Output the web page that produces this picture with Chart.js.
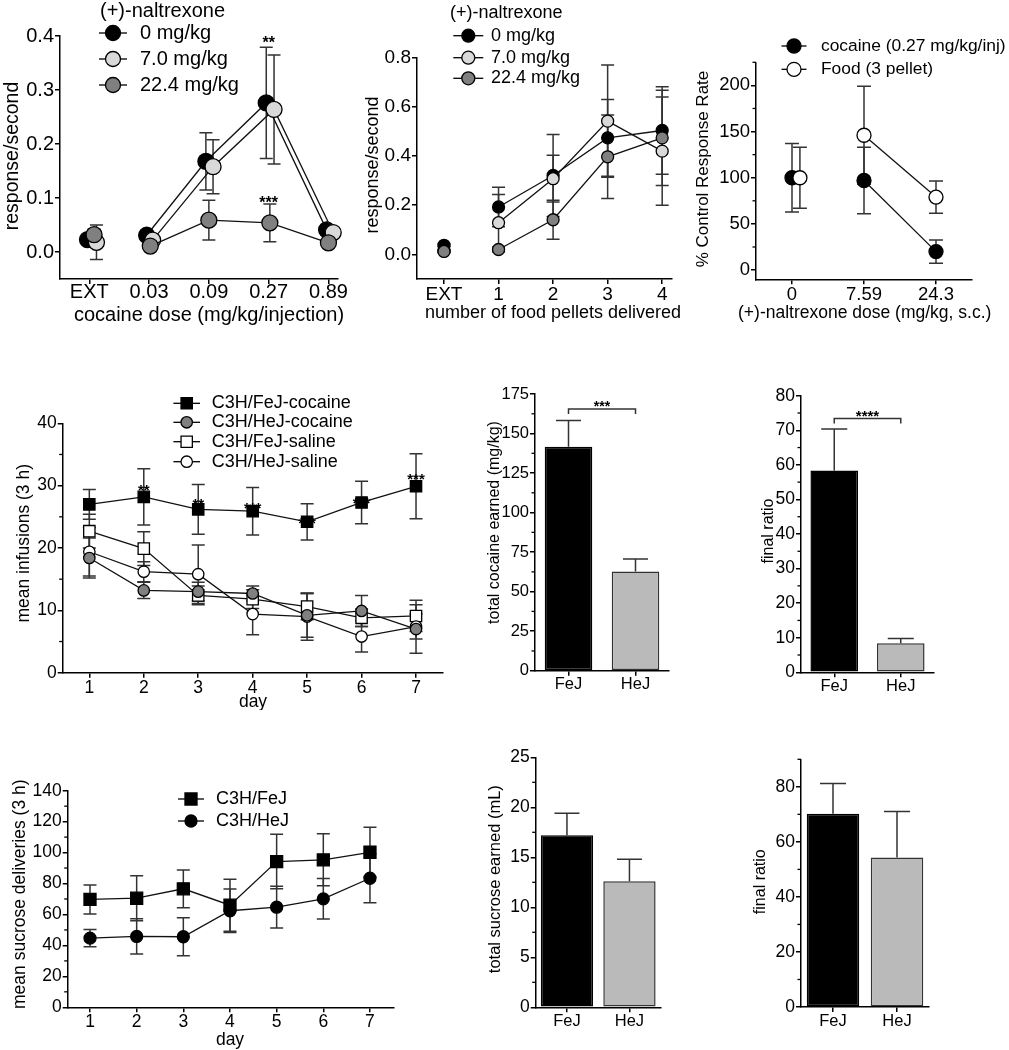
<!DOCTYPE html>
<html>
<head>
<meta charset="utf-8">
<title>(+)-naltrexone and C3H strains: self-administration</title>
<script src="https://cdn.jsdelivr.net/npm/chart.js"></script>
<style>
  body { margin: 0; background: #fff; }
  #fig { position: relative; width: 1009px; height: 1050px; overflow: hidden; }
  #fig canvas { position: absolute; }
</style>
</head>
<body>
<div id="fig">
  <canvas id="pA"></canvas>
  <canvas id="pB"></canvas>
  <canvas id="pC"></canvas>
  <canvas id="pD"></canvas>
  <canvas id="pE"></canvas>
  <canvas id="pF"></canvas>
  <canvas id="pG"></canvas>
  <canvas id="pH"></canvas>
  <canvas id="pI"></canvas>
</div>
<script>
// ---- data ----
// A: cocaine dose-effect with (+)-naltrexone pretreatment
const doseCats = ['EXT', '0.03', '0.09', '0.27', '0.89'];
const naltrexLabels = ['0 mg/kg', '7.0 mg/kg', '22.4 mg/kg'];
const cocRate0 = [0.023, 0.031, 0.168, 0.276, 0.041];
const cocRate7 = [0.018, 0.022, 0.158, 0.264, 0.036];
const cocRate22 = [0.032, 0.011, 0.059, 0.054, 0.017];
const cocSem0 = [0.008, 0.005, 0.053, 0.103, 0.005];
const cocSem7 = [0.032, 0.005, 0.05, 0.101, 0.005];
const cocSem22 = [0.01, 0.005, 0.037, 0.035, 0.005];
const cocTicksY = [0, 0.1, 0.2, 0.3, 0.4];

// B: food-maintained responding
const pelletCats = ['EXT', '1', '2', '3', '4'];
const foodRate0 = [0.037, 0.193, 0.321, 0.474, 0.504];
const foodRate7 = [0.015, 0.129, 0.308, 0.542, 0.42];
const foodRate22 = [0.012, 0.02, 0.141, 0.397, 0.474];
const foodSem0 = [0.005, 0.08, 0.167, 0.156, 0.178];
const foodSem7 = [0.005, 0.115, 0.095, 0.228, 0.22];
const foodSem22 = [0.005, 0.01, 0.079, 0.17, 0.194];
const foodTicksY = [0, 0.2, 0.4, 0.6, 0.8];

// C: % control response rate
const ntxDoseCats = ['0', '7.59', '24.3'];
const ctrlLabels = ['cocaine (0.27 mg/kg/inj)', 'Food (3 pellet)'];
const ctrlCocaine = [100, 97, 20];
const ctrlCocaineSem = [37, 36, 12.5];
const ctrlFood = [100, 146, 79];
const ctrlFoodSem = [33, 53, 17.5];
const ctrlTicksY = [0, 50, 100, 150, 200];

// D: infusions per day
const days = [1, 2, 3, 4, 5, 6, 7];
const infusionLabels = ['C3H/FeJ-cocaine', 'C3H/HeJ-cocaine', 'C3H/FeJ-saline', 'C3H/HeJ-saline'];
const feCoc = [27.0, 28.2, 26.2, 25.9, 24.2, 27.3, 29.9];
const feCocSem = [2.4, 4.5, 4.0, 3.8, 2.9, 3.4, 5.2];
const heCoc = [18.4, 13.2, 13.0, 12.7, 9.2, 9.9, 7.0];
const heCocSem = [3.2, 1.3, 1.5, 1.2, 3.5, 2.5, 3.9];
const feSal = [22.7, 19.9, 12.4, 11.8, 10.6, 8.8, 9.1];
const feSalSem = [2.7, 2.7, 1.5, 1.5, 2.1, 1.4, 2.5];
const heSal = [19.4, 16.2, 15.8, 9.4, 9.0, 5.8, 7.4];
const heSalSem = [3.9, 1.6, 4.7, 3.3, 3.8, 2.5, 2.0];
const infusionStars = ['', '**', '**', '***', '***', '***', '***'];
const infusionStarAt = [0, 29.8, 27.6, 27.0, 24.6, 27.8, 31.6];
const infusionTicksY = [0, 10, 20, 30, 40];

// E, F: cocaine totals and breakpoints
const strains = ['FeJ', 'HeJ'];
const cocaineTotal = [141.7, 62.8];
const cocaineTotalSem = [16.5, 7.9];
const cocaineTotalTicks = [0, 25, 50, 75, 100, 125, 150, 175];
const cocaineRatio = [58.4, 8.4];
const cocaineRatioSem = [12.0, 1.4];
const cocaineRatioTicks = [0, 10, 20, 30, 40, 50, 60, 70, 80];

// G: sucrose deliveries per day
const sucroseLabels = ['C3H/FeJ', 'C3H/HeJ'];
const feSuc = [69.7, 70.5, 76.6, 66.0, 94.2, 95.3, 100.2];
const feSucSem = [9.4, 14.5, 12.2, 16.8, 17.6, 16.8, 16.1];
const heSuc = [44.7, 45.8, 45.6, 62.4, 64.7, 70.1, 83.4];
const heSucSem = [5.6, 11.4, 12.3, 14.0, 13.5, 13.1, 15.9];
const sucroseTicksY = [0, 20, 40, 60, 80, 100, 120, 140];

// H, I: sucrose totals and breakpoints
const sucroseTotal = [17.2, 12.6];
const sucroseTotalSem = [2.2, 2.2];
const sucroseTotalTicks = [0, 5, 10, 15, 20, 25];
const sucroseRatio = [70.2, 54.3];
const sucroseRatioSem = [11.0, 16.7];
const sucroseRatioTicks = [0, 20, 40, 60, 80];

// ---- drawing ----
const FAM = '"Liberation Sans", Arial, Helvetica, sans-serif';
Chart.defaults.font.family = FAM;
Chart.defaults.color = '#000';

// error bars, minor ticks, brackets, stars, legends and axis titles
const extras = {
  id: 'extras',
  beforeDatasetsDraw(chart, args, o) {
    const ctx = chart.ctx, xs = chart.scales.x, ys = chart.scales.y;
    const area = chart.chartArea;
    ctx.save();
    if (o.minorStep) {
      ctx.strokeStyle = '#000';
      ctx.lineWidth = 1.3;
      const major = ys.ticks.map(t => t.value);
      for (let v = Math.ceil(ys.min / o.minorStep) * o.minorStep; v <= ys.max + 1e-9; v += o.minorStep) {
        if (major.some(m => Math.abs(m - v) < 1e-6)) continue;
        const py = ys.getPixelForValue(v);
        ctx.beginPath();
        ctx.moveTo(area.left, py);
        ctx.lineTo(area.left - 3.5, py);
        ctx.stroke();
      }
    }
    chart.data.datasets.forEach((ds, di) => {
      if (!ds.errors) return;
      const meta = chart.getDatasetMeta(di);
      ctx.strokeStyle = '#333';
      ctx.lineWidth = 1.5;
      meta.data.forEach((el, i) => {
        const e = ds.errors[i];
        if (!e) return;
        const raw = ds.data[i];
        const v = typeof raw === 'object' ? raw.y : raw;
        const top = ys.getPixelForValue(v + e);
        const bot = ys.getPixelForValue(o.upOnly ? v : v - e);
        ctx.beginPath();
        ctx.moveTo(el.x, top);
        ctx.lineTo(el.x, bot);
        ctx.moveTo(el.x - o.cap, top);
        ctx.lineTo(el.x + o.cap, top);
        if (!o.upOnly) {
          ctx.moveTo(el.x - o.cap, bot);
          ctx.lineTo(el.x + o.cap, bot);
        }
        ctx.stroke();
      });
    });
    if (o.bracket) {
      const b = o.bracket;
      const py = ys.getPixelForValue(b.y);
      const x0 = xs.getPixelForValue(b.from), x1 = xs.getPixelForValue(b.to);
      ctx.strokeStyle = '#333';
      ctx.lineWidth = 1.5;
      ctx.beginPath();
      ctx.moveTo(x0, py + b.drop);
      ctx.lineTo(x0, py);
      ctx.lineTo(x1, py);
      ctx.lineTo(x1, py + b.drop);
      ctx.stroke();
    }
    (o.stars || []).forEach(s => {
      if (!s.text) return;
      ctx.font = (s.bold ? 'bold ' : '') + s.size + 'px ' + FAM;
      ctx.fillStyle = '#000';
      ctx.textAlign = 'center';
      ctx.textBaseline = 'alphabetic';
      ctx.fillText(s.text, xs.getPixelForValue(s.x), ys.getPixelForValue(s.y) + 0.57 * s.size);
    });
    ctx.restore();
  },
  afterDraw(chart, args, o) {
    const ctx = chart.ctx;
    const [ox, oy] = o.origin;
    ctx.save();
    ctx.fillStyle = '#000';
    ctx.textBaseline = 'middle';
    const L = o.legend;
    if (L) {
      ctx.font = L.size + 'px ' + FAM;
      ctx.textAlign = 'left';
      if (L.title) ctx.fillText(L.title, L.titleX - ox, L.titleY - oy);
      L.items.forEach((it, k) => {
        const cx = L.x - ox, cy = L.y[k] - oy;
        ctx.strokeStyle = '#000';
        ctx.lineWidth = 1.3;
        ctx.beginPath();
        ctx.moveTo(cx - L.half, cy);
        ctx.lineTo(cx + L.half, cy);
        ctx.stroke();
        ctx.fillStyle = it.fill;
        Chart.helpers.drawPoint(ctx, { pointStyle: it.style, radius: it.r, borderWidth: 1.3, rotation: 0 }, cx, cy);
        ctx.fillStyle = '#000';
        ctx.fillText(it.label, L.textX - ox, cy);
      });
    }
    (o.titles || []).forEach(t => {
      ctx.save();
      ctx.font = t.size + 'px ' + FAM;
      ctx.textAlign = 'center';
      ctx.translate(t.x - ox, t.y - oy);
      if (t.rot) ctx.rotate(-Math.PI / 2);
      ctx.fillText(t.text, 0, 0);
      ctx.restore();
    });
    ctx.restore();
  }
};
Chart.register(extras);

const axisLine = { color: '#000', width: 1.5 };
const tickGrid = { drawOnChartArea: false, offset: false, color: '#000', lineWidth: 1.5, tickLength: 5 };

function yAxis(f, min, max, ticks, size, fmt) {
  return {
    type: 'linear', position: 'left', bounds: 'data', min: min, max: max,
    afterBuildTicks: s => { s.ticks = ticks.map(v => ({ value: v })); },
    afterFit: s => { s.width = f.yw; s.paddingTop = 0; s.paddingBottom = 0; },
    ticks: { autoSkip: false, padding: 1, color: '#000', font: { size: size }, callback: fmt || (v => String(v)) },
    grid: tickGrid,
    border: axisLine
  };
}

function xAxis(f, min, max, ticks, size, pad, fmt) {
  return {
    type: 'linear', position: 'bottom', bounds: 'data', min: min, max: max,
    afterBuildTicks: s => { s.ticks = ticks.map(v => ({ value: v })); },
    afterFit: s => { s.height = f.xh; s.paddingLeft = 0; s.paddingRight = 0; },
    ticks: { autoSkip: false, maxRotation: 0, padding: pad, color: '#000', font: { size: size, lineHeight: 1 }, callback: fmt },
    grid: tickGrid,
    border: axisLine
  };
}

function xCats(f, size, pad) {
  return {
    type: 'category', position: 'bottom', offset: true,
    afterFit: s => { s.height = f.xh; s.paddingLeft = 0; s.paddingRight = 0; },
    ticks: { autoSkip: false, maxRotation: 0, padding: pad, color: '#000', font: { size: size, lineHeight: 1 } },
    grid: tickGrid,
    border: axisLine
  };
}

function line(label, xs, ys, errs, st) {
  const ds = {
    label: label,
    data: xs.map((x, i) => ({ x: x + (st.dx ? st.dx[i] : 0), y: ys[i] })),
    errors: errs,
    showLine: true, fill: false, tension: 0, clip: false,
    borderColor: '#111', borderWidth: 1.3,
    pointStyle: st.style || 'circle', pointRadius: st.r, pointHoverRadius: st.r,
    pointBackgroundColor: st.fill, pointBorderColor: '#000', pointBorderWidth: 1.3,
    order: st.order || 0
  };
  if (st.gapFirst) ds.segment = { borderColor: c => (c.p0DataIndex === 0 ? 'rgba(0,0,0,0)' : '#111') };
  return ds;
}

function bars(vals, errs, pct) {
  return {
    data: vals, errors: errs,
    backgroundColor: ['#000', '#bababa'], borderColor: ['#000', '#333'], borderWidth: 1.5,
    borderSkipped: false, barPercentage: pct, categoryPercentage: 1
  };
}

function panel(id, box, area, make) {
  const c = document.getElementById(id);
  c.width = box[2];
  c.height = box[3];
  c.style.left = box[0] + 'px';
  c.style.top = box[1] + 'px';
  const f = { yw: area[0] - box[0], xh: box[1] + box[3] - area[3] };
  const cfg = make(f);
  const o = cfg.options;
  o.responsive = false;
  o.animation = false;
  o.events = [];
  o.devicePixelRatio = 1;
  o.layout = { padding: { left: 0, bottom: 0, top: area[2] - box[1], right: box[0] + box[2] - area[1] } };
  o.plugins.legend = { display: false };
  o.plugins.tooltip = { enabled: false };
  o.plugins.extras.origin = [box[0], box[1]];
  return new Chart(c, cfg);
}

const idx5 = doseCats.map((_, i) => i);
const fmt1 = v => v.toFixed(1);

// A
panel('pA', [0, 0, 350, 330], [60, 338, 36, 279], f => ({
  type: 'scatter',
  data: { datasets: [
    line(naltrexLabels[0], idx5, cocRate0, cocSem0, { r: 8, fill: '#000', dx: [-0.03, -0.04, -0.05, -0.04, -0.03], order: 2, gapFirst: true }),
    line(naltrexLabels[1], idx5, cocRate7, cocSem7, { r: 8, fill: '#d9d9d9', dx: [0.12, 0.06, 0.07, 0.09, 0.08], order: 1, gapFirst: true }),
    line(naltrexLabels[2], idx5, cocRate22, cocSem22, { r: 8, fill: '#808080', dx: [0.08, 0.02, 0, 0.02, 0], order: 0, gapFirst: true })
  ] },
  options: {
    scales: {
      x: xAxis(f, -0.49, 4.16, idx5, 20, -1.5, (v, i) => doseCats[i]),
      y: yAxis(f, -0.05, 0.4, cocTicksY, 20, fmt1)
    },
    plugins: { extras: {
      cap: 6.5,
      stars: [{ x: 3, y: 0.394, text: '**', size: 16, bold: true }, { x: 3, y: 0.099, text: '***', size: 16, bold: true }],
      legend: {
        title: '(+)-naltrexone', titleX: 100, titleY: 11, size: 20, x: 113, half: 14, textX: 140, y: [33, 59, 85],
        items: [
          { label: naltrexLabels[0], style: 'circle', fill: '#000', r: 7.5 },
          { label: naltrexLabels[1], style: 'circle', fill: '#d9d9d9', r: 7.5 },
          { label: naltrexLabels[2], style: 'circle', fill: '#808080', r: 7.5 }
        ]
      },
      titles: [
        { text: 'cocaine dose (mg/kg/injection)', x: 209, y: 315, size: 20 },
        { text: 'response/second', x: 13, y: 156, size: 19.5, rot: true }
      ]
    } }
  }
}));

// B
panel('pB', [350, 0, 340, 330], [417, 672, 57.7, 279], f => ({
  type: 'scatter',
  data: { datasets: [
    line(naltrexLabels[0], idx5, foodRate0, foodSem0, { r: 6, fill: '#000', order: 2, gapFirst: true }),
    line(naltrexLabels[1], idx5, foodRate7, foodSem7, { r: 6, fill: '#d9d9d9', order: 1, gapFirst: true }),
    line(naltrexLabels[2], idx5, foodRate22, foodSem22, { r: 6, fill: '#808080', order: 0, gapFirst: true })
  ] },
  options: {
    scales: {
      x: xAxis(f, -0.495, 4.18, idx5, 19, 1.5, (v, i) => pelletCats[i]),
      y: yAxis(f, -0.1, 0.8, foodTicksY, 19, fmt1)
    },
    plugins: { extras: {
      cap: 6.5,
      legend: {
        title: '(+)-naltrexone', titleX: 450, titleY: 13.3, size: 18, x: 468.3, half: 15, textX: 491, y: [35.7, 57.7, 78.3],
        items: [
          { label: naltrexLabels[0], style: 'circle', fill: '#000', r: 6.5 },
          { label: naltrexLabels[1], style: 'circle', fill: '#d9d9d9', r: 6.5 },
          { label: naltrexLabels[2], style: 'circle', fill: '#808080', r: 6.5 }
        ]
      },
      titles: [
        { text: 'number of food pellets delivered', x: 553, y: 313.3, size: 18 },
        { text: 'response/second', x: 372.7, y: 165, size: 18, rot: true }
      ]
    } }
  }
}));

// C
const idx3 = ntxDoseCats.map((_, i) => i);
panel('pC', [690, 0, 319, 330], [756, 972, 62.3, 279.3], f => ({
  type: 'scatter',
  data: { datasets: [
    line(ctrlLabels[0], idx3, ctrlCocaine, ctrlCocaineSem, { r: 7, fill: '#000', order: 1, gapFirst: true }),
    line(ctrlLabels[1], idx3, ctrlFood, ctrlFoodSem, { r: 7, fill: '#fff', dx: [0.11, 0, 0], order: 0, gapFirst: true })
  ] },
  options: {
    scales: {
      x: xAxis(f, -0.5, 2.5, idx3, 18.5, 1.5, (v, i) => ntxDoseCats[i]),
      y: yAxis(f, -10, 225, ctrlTicksY, 18.5)
    },
    plugins: { extras: {
      cap: 7, minorStep: 25,
      legend: {
        size: 17.4, x: 794, half: 12.5, textX: 821, y: [46, 69.3],
        items: [
          { label: ctrlLabels[0], style: 'circle', fill: '#000', r: 7 },
          { label: ctrlLabels[1], style: 'circle', fill: '#fff', r: 7 }
        ]
      },
      titles: [
        { text: '(+)-naltrexone dose (mg/kg, s.c.)', x: 864.7, y: 313.3, size: 17.5 },
        { text: '% Control Response Rate', x: 703.3, y: 169, size: 17, rot: true }
      ]
    } }
  }
}));

// D
panel('pD', [0, 340, 460, 370], [62.7, 442.7, 423.3, 672.7], f => ({
  type: 'scatter',
  data: { datasets: [
    line(infusionLabels[0], days, feCoc, feCocSem, { style: 'rect', r: 8, fill: '#000', order: 3 }),
    line(infusionLabels[1], days, heCoc, heCocSem, { r: 5.7, fill: '#808080', order: 0 }),
    line(infusionLabels[2], days, feSal, feSalSem, { style: 'rect', r: 8, fill: '#fff', order: 2 }),
    line(infusionLabels[3], days, heSal, heSalSem, { r: 5.7, fill: '#fff', order: 1 })
  ] },
  options: {
    scales: {
      x: xAxis(f, 0.511, 7.49, days, 17.5, 1.8),
      y: yAxis(f, 0, 40, infusionTicksY, 17.5)
    },
    plugins: { extras: {
      cap: 6.5, minorStep: 5,
      stars: days.map((d, i) => ({ x: d, y: infusionStarAt[i], text: infusionStars[i], size: 15, bold: true })),
      legend: {
        size: 18, x: 186.7, half: 13.3, textX: 211.7, y: [403.3, 422.3, 441.7, 461.7],
        items: [
          { label: infusionLabels[0], style: 'rect', fill: '#000', r: 8 },
          { label: infusionLabels[1], style: 'circle', fill: '#808080', r: 5.7 },
          { label: infusionLabels[2], style: 'rect', fill: '#fff', r: 8 },
          { label: infusionLabels[3], style: 'circle', fill: '#fff', r: 5.7 }
        ]
      },
      titles: [
        { text: 'day', x: 253, y: 702, size: 17.5 },
        { text: 'mean infusions (3 h)', x: 24, y: 543.3, size: 17.5, rot: true }
      ]
    } }
  }
}));

// E
panel('pE', [470, 340, 260, 370], [535, 669, 394, 670.7], f => ({
  type: 'bar',
  data: { labels: strains, datasets: [bars(cocaineTotal, cocaineTotalSem, 0.71)] },
  options: {
    scales: { x: xCats(f, 16.5, 1), y: yAxis(f, 0, 175, cocaineTotalTicks, 16.5) },
    plugins: { extras: {
      cap: 12.5, upOnly: true, minorStep: 12.5,
      bracket: { from: 0, to: 1, y: 165.5, drop: 5 },
      stars: [{ x: 0.5, y: 169.4, text: '***', size: 14, bold: true }],
      titles: [{ text: 'total cocaine earned (mg/kg)', x: 495, y: 522.5, size: 16, rot: true }]
    } }
  }
}));

// F
panel('pF', [735, 340, 274, 370], [801, 934, 395.7, 672.3], f => ({
  type: 'bar',
  data: { labels: strains, datasets: [bars(cocaineRatio, cocaineRatioSem, 0.716)] },
  options: {
    scales: { x: xCats(f, 16.5, 0.7), y: yAxis(f, 0, 80, cocaineRatioTicks, 17.5) },
    plugins: { extras: {
      cap: 13, upOnly: true, minorStep: 5,
      bracket: { from: 0, to: 1, y: 73.4, drop: 5 },
      stars: [{ x: 0.5, y: 75.3, text: '****', size: 15, bold: true }],
      titles: [{ text: 'final ratio', x: 768.3, y: 531, size: 16, rot: true }]
    } }
  }
}));

// G
panel('pG', [0, 710, 460, 340], [67.7, 393.3, 790.7, 1007.3], f => ({
  type: 'scatter',
  data: { datasets: [
    line(sucroseLabels[0], days, feSuc, feSucSem, { style: 'rect', r: 8.5, fill: '#000', order: 1 }),
    line(sucroseLabels[1], days, heSuc, heSucSem, { r: 6, fill: '#000', order: 0 })
  ] },
  options: {
    scales: {
      x: xAxis(f, 0.522, 7.5, days, 17.5, 0.8),
      y: yAxis(f, 0, 140, sucroseTicksY, 17.5)
    },
    plugins: { extras: {
      cap: 6.5, minorStep: 10,
      legend: {
        size: 18, x: 191, half: 13, textX: 216, y: [799, 821],
        items: [
          { label: sucroseLabels[0], style: 'rect', fill: '#000', r: 8.5 },
          { label: sucroseLabels[1], style: 'circle', fill: '#000', r: 6 }
        ]
      },
      titles: [
        { text: 'day', x: 230, y: 1040, size: 17.5 },
        { text: 'mean sucrose deliveries (3 h)', x: 20, y: 894.2, size: 17.5, rot: true }
      ]
    } }
  }
}));

// H
panel('pH', [470, 710, 260, 340], [535.7, 660.7, 757.3, 1007.3], f => ({
  type: 'bar',
  data: { labels: strains, datasets: [bars(sucroseTotal, sucroseTotalSem, 0.837)] },
  options: {
    scales: { x: xCats(f, 16.5, 1.2), y: yAxis(f, 0, 25, sucroseTotalTicks, 17.5) },
    plugins: { extras: {
      cap: 12.5, upOnly: true, minorStep: 2.5,
      titles: [{ text: 'total sucrose earned (mL)', x: 495, y: 879.2, size: 16.5, rot: true }]
    } }
  }
}));

// I
panel('pI', [735, 710, 274, 340], [801, 929, 759.3, 1007], f => ({
  type: 'bar',
  data: { labels: strains, datasets: [bars(sucroseRatio, sucroseRatioSem, 0.82)] },
  options: {
    scales: { x: xCats(f, 16.5, 1.5), y: yAxis(f, 0, 90, sucroseRatioTicks, 17.5) },
    plugins: { extras: {
      cap: 13, upOnly: true, minorStep: 10,
      titles: [{ text: 'final ratio', x: 760.7, y: 881.7, size: 16, rot: true }]
    } }
  }
}));
</script>
</body>
</html>
